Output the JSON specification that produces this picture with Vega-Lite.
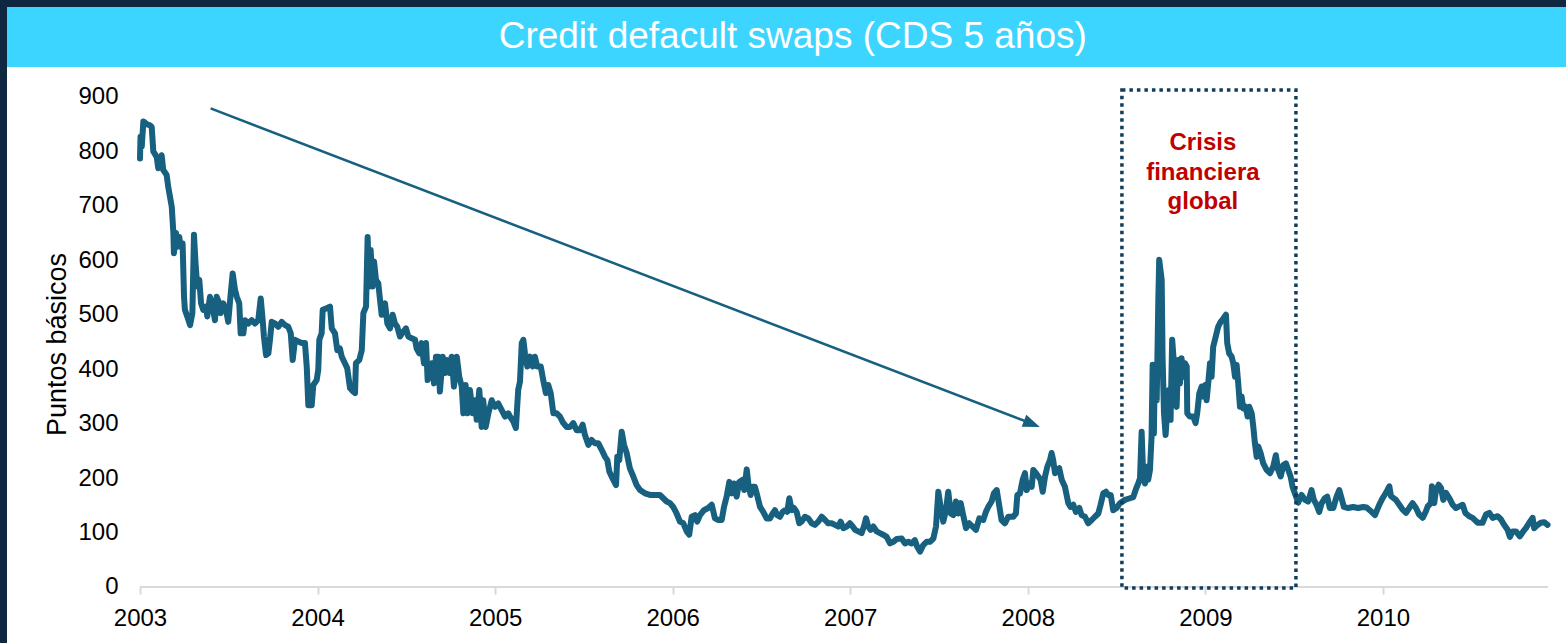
{
  "$schema": "https://vega.github.io/schema/vega-lite/v6.json",
  "background": "#0F2741",
  "padding": {"left": 7, "top": 7, "right": 0, "bottom": 0},
  "spacing": 0,
  "config": {
    "font": "Liberation Sans",
    "view": {"stroke": null},
    "concat": {"spacing": 0}
  },
  "vconcat": [
    {
      "width": 1559,
      "height": 60,
      "view": {"fill": "#3CD5FF", "stroke": null},
      "data": {"values": [{"titulo": "Credit defacult swaps (CDS 5 años)"}]},
      "mark": {"type": "text", "color": "#FFFFFF", "fontSize": 37, "font": "Liberation Sans", "align": "center", "baseline": "middle"},
      "encoding": {
        "x": {"datum": 0.504, "type": "quantitative", "scale": {"domain": [0, 1]}, "axis": null},
        "y": {"datum": 0.5, "type": "quantitative", "scale": {"domain": [0, 1]}, "axis": null},
        "text": {"field": "titulo"}
      }
    },
    {
      "width": 1559,
      "height": 576,
      "view": {"fill": "#FFFFFF", "stroke": null},
      "encoding": {
        "x": {
          "field": "anio", "type": "quantitative",
          "scale": {"domain": [2002.251, 2011.031], "nice": false, "zero": false},
          "axis": {
            "title": null, "values": [2003, 2004, 2005, 2006, 2007, 2008, 2009, 2010],
            "format": "d", "domain": false, "grid": false,
            "tickColor": "#D9D9D9", "tickWidth": 2, "tickSize": 7,
            "labelFontSize": 24, "labelColor": "#000000", "labelFont": "Liberation Sans",
            "labelPadding": 12, "labelFlush": false, "labelOverlap": false, "labelBound": false,
            "offset": -56
          }
        },
        "y": {
          "field": "v", "type": "quantitative",
          "scale": {"domain": [-102.9, 955.1], "nice": false, "zero": false},
          "axis": {
            "title": "Puntos básicos", "values": [0, 100, 200, 300, 400, 500, 600, 700, 800, 900],
            "domain": false, "grid": false, "ticks": false, "tickSize": 0,
            "labelFontSize": 24, "labelColor": "#000000", "labelFont": "Liberation Sans",
            "labelPadding": 0, "labelOverlap": false, "labelBound": false,
            "offset": -111,
            "titleFontSize": 27, "titleFontWeight": "normal", "titleColor": "#000000", "titleFont": "Liberation Sans",
            "titleX": -61, "titleY": 277, "titleBaseline": "middle", "titleAngle": 270
          }
        }
      },
      "layer": [
        {
          "data": {"values": [{"anio": 2003, "anio2": 2010.93, "v": 0}]},
          "mark": {"type": "rule", "color": "#D9D9D9", "strokeWidth": 2},
          "encoding": {"x2": {"field": "anio2"}}
        },
        {
          "data": {"values": [
            {"anio": 2003.000, "v": 787}, {"anio": 2003.003, "v": 827}, {"anio": 2003.010, "v": 809}, {"anio": 2003.019, "v": 855},
            {"anio": 2003.039, "v": 850}, {"anio": 2003.056, "v": 848}, {"anio": 2003.066, "v": 845}, {"anio": 2003.075, "v": 800},
            {"anio": 2003.094, "v": 790}, {"anio": 2003.103, "v": 769}, {"anio": 2003.122, "v": 793}, {"anio": 2003.131, "v": 766},
            {"anio": 2003.150, "v": 757}, {"anio": 2003.159, "v": 735}, {"anio": 2003.179, "v": 698}, {"anio": 2003.188, "v": 650},
            {"anio": 2003.191, "v": 613}, {"anio": 2003.203, "v": 650}, {"anio": 2003.210, "v": 625}, {"anio": 2003.221, "v": 643},
            {"anio": 2003.229, "v": 625}, {"anio": 2003.240, "v": 631}, {"anio": 2003.248, "v": 533}, {"anio": 2003.253, "v": 509},
            {"anio": 2003.266, "v": 497}, {"anio": 2003.282, "v": 481}, {"anio": 2003.295, "v": 503}, {"anio": 2003.304, "v": 647},
            {"anio": 2003.314, "v": 588}, {"anio": 2003.323, "v": 552}, {"anio": 2003.334, "v": 564}, {"anio": 2003.344, "v": 521},
            {"anio": 2003.356, "v": 509}, {"anio": 2003.372, "v": 515}, {"anio": 2003.379, "v": 497}, {"anio": 2003.394, "v": 533},
            {"anio": 2003.409, "v": 515}, {"anio": 2003.422, "v": 490}, {"anio": 2003.432, "v": 533}, {"anio": 2003.447, "v": 521},
            {"anio": 2003.454, "v": 503}, {"anio": 2003.469, "v": 521}, {"anio": 2003.488, "v": 503}, {"anio": 2003.497, "v": 487},
            {"anio": 2003.511, "v": 539}, {"anio": 2003.522, "v": 576}, {"anio": 2003.535, "v": 546}, {"anio": 2003.545, "v": 533},
            {"anio": 2003.559, "v": 521}, {"anio": 2003.567, "v": 466}, {"anio": 2003.582, "v": 466}, {"anio": 2003.591, "v": 490},
            {"anio": 2003.610, "v": 484}, {"anio": 2003.629, "v": 490}, {"anio": 2003.648, "v": 484}, {"anio": 2003.666, "v": 490},
            {"anio": 2003.680, "v": 530}, {"anio": 2003.691, "v": 490}, {"anio": 2003.698, "v": 460}, {"anio": 2003.710, "v": 426},
            {"anio": 2003.723, "v": 429}, {"anio": 2003.732, "v": 454}, {"anio": 2003.742, "v": 487}, {"anio": 2003.760, "v": 484},
            {"anio": 2003.779, "v": 478}, {"anio": 2003.798, "v": 487}, {"anio": 2003.817, "v": 481}, {"anio": 2003.835, "v": 478},
            {"anio": 2003.849, "v": 466}, {"anio": 2003.860, "v": 417}, {"anio": 2003.873, "v": 454}, {"anio": 2003.891, "v": 451},
            {"anio": 2003.911, "v": 448}, {"anio": 2003.929, "v": 448}, {"anio": 2003.939, "v": 405}, {"anio": 2003.948, "v": 334},
            {"anio": 2003.967, "v": 334}, {"anio": 2003.976, "v": 371}, {"anio": 2003.995, "v": 380}, {"anio": 2004.004, "v": 399},
            {"anio": 2004.010, "v": 454}, {"anio": 2004.023, "v": 466}, {"anio": 2004.029, "v": 509}, {"anio": 2004.051, "v": 512},
            {"anio": 2004.070, "v": 515}, {"anio": 2004.080, "v": 475}, {"anio": 2004.098, "v": 466}, {"anio": 2004.111, "v": 435},
            {"anio": 2004.126, "v": 438}, {"anio": 2004.136, "v": 423}, {"anio": 2004.154, "v": 411}, {"anio": 2004.167, "v": 402},
            {"anio": 2004.183, "v": 365}, {"anio": 2004.201, "v": 359}, {"anio": 2004.211, "v": 356}, {"anio": 2004.216, "v": 411},
            {"anio": 2004.235, "v": 417}, {"anio": 2004.249, "v": 435}, {"anio": 2004.258, "v": 503}, {"anio": 2004.273, "v": 515},
            {"anio": 2004.282, "v": 643}, {"anio": 2004.291, "v": 552}, {"anio": 2004.299, "v": 619}, {"anio": 2004.310, "v": 552},
            {"anio": 2004.318, "v": 598}, {"anio": 2004.329, "v": 564}, {"anio": 2004.342, "v": 558}, {"anio": 2004.352, "v": 527},
            {"anio": 2004.361, "v": 500}, {"anio": 2004.380, "v": 521}, {"anio": 2004.393, "v": 484}, {"anio": 2004.408, "v": 475},
            {"anio": 2004.423, "v": 500}, {"anio": 2004.436, "v": 484}, {"anio": 2004.449, "v": 478}, {"anio": 2004.464, "v": 460},
            {"anio": 2004.483, "v": 469}, {"anio": 2004.498, "v": 475}, {"anio": 2004.511, "v": 460}, {"anio": 2004.530, "v": 457},
            {"anio": 2004.549, "v": 454}, {"anio": 2004.558, "v": 438}, {"anio": 2004.573, "v": 429}, {"anio": 2004.586, "v": 448},
            {"anio": 2004.599, "v": 411}, {"anio": 2004.611, "v": 448}, {"anio": 2004.620, "v": 380}, {"anio": 2004.633, "v": 393},
            {"anio": 2004.644, "v": 411}, {"anio": 2004.656, "v": 374}, {"anio": 2004.667, "v": 423}, {"anio": 2004.680, "v": 423},
            {"anio": 2004.689, "v": 359}, {"anio": 2004.705, "v": 423}, {"anio": 2004.718, "v": 393}, {"anio": 2004.727, "v": 417},
            {"anio": 2004.742, "v": 393}, {"anio": 2004.755, "v": 423}, {"anio": 2004.768, "v": 368}, {"anio": 2004.784, "v": 423},
            {"anio": 2004.798, "v": 386}, {"anio": 2004.812, "v": 368}, {"anio": 2004.821, "v": 319}, {"anio": 2004.834, "v": 371},
            {"anio": 2004.845, "v": 319}, {"anio": 2004.858, "v": 362}, {"anio": 2004.874, "v": 319}, {"anio": 2004.887, "v": 343},
            {"anio": 2004.896, "v": 307}, {"anio": 2004.911, "v": 362}, {"anio": 2004.924, "v": 294}, {"anio": 2004.933, "v": 343},
            {"anio": 2004.947, "v": 294}, {"anio": 2004.962, "v": 319}, {"anio": 2004.981, "v": 343}, {"anio": 2004.999, "v": 331},
            {"anio": 2005.018, "v": 337}, {"anio": 2005.037, "v": 325}, {"anio": 2005.056, "v": 313}, {"anio": 2005.074, "v": 319},
            {"anio": 2005.084, "v": 313}, {"anio": 2005.102, "v": 304}, {"anio": 2005.117, "v": 292}, {"anio": 2005.130, "v": 362},
            {"anio": 2005.140, "v": 377}, {"anio": 2005.150, "v": 448}, {"anio": 2005.159, "v": 454}, {"anio": 2005.168, "v": 429},
            {"anio": 2005.181, "v": 405}, {"anio": 2005.196, "v": 423}, {"anio": 2005.212, "v": 405}, {"anio": 2005.224, "v": 423},
            {"anio": 2005.237, "v": 405}, {"anio": 2005.257, "v": 405}, {"anio": 2005.271, "v": 380}, {"anio": 2005.286, "v": 356},
            {"anio": 2005.299, "v": 371}, {"anio": 2005.313, "v": 356}, {"anio": 2005.328, "v": 319}, {"anio": 2005.347, "v": 319},
            {"anio": 2005.365, "v": 313}, {"anio": 2005.384, "v": 301}, {"anio": 2005.403, "v": 294}, {"anio": 2005.422, "v": 294},
            {"anio": 2005.440, "v": 301}, {"anio": 2005.459, "v": 288}, {"anio": 2005.478, "v": 288}, {"anio": 2005.493, "v": 298},
            {"anio": 2005.506, "v": 279}, {"anio": 2005.525, "v": 261}, {"anio": 2005.544, "v": 270}, {"anio": 2005.562, "v": 264},
            {"anio": 2005.581, "v": 264}, {"anio": 2005.600, "v": 252}, {"anio": 2005.619, "v": 239}, {"anio": 2005.632, "v": 233},
            {"anio": 2005.643, "v": 212}, {"anio": 2005.656, "v": 203}, {"anio": 2005.665, "v": 197}, {"anio": 2005.681, "v": 187},
            {"anio": 2005.688, "v": 239}, {"anio": 2005.699, "v": 233}, {"anio": 2005.713, "v": 285}, {"anio": 2005.726, "v": 261},
            {"anio": 2005.741, "v": 246}, {"anio": 2005.759, "v": 218}, {"anio": 2005.778, "v": 203}, {"anio": 2005.797, "v": 187},
            {"anio": 2005.816, "v": 178}, {"anio": 2005.844, "v": 172}, {"anio": 2005.872, "v": 169}, {"anio": 2005.900, "v": 169},
            {"anio": 2005.928, "v": 169}, {"anio": 2005.947, "v": 163}, {"anio": 2005.966, "v": 157}, {"anio": 2005.985, "v": 154},
            {"anio": 2006.003, "v": 147}, {"anio": 2006.022, "v": 135}, {"anio": 2006.041, "v": 120}, {"anio": 2006.060, "v": 117},
            {"anio": 2006.079, "v": 102}, {"anio": 2006.093, "v": 96}, {"anio": 2006.107, "v": 129}, {"anio": 2006.126, "v": 132},
            {"anio": 2006.138, "v": 120}, {"anio": 2006.154, "v": 132}, {"anio": 2006.176, "v": 141}, {"anio": 2006.200, "v": 145},
            {"anio": 2006.220, "v": 151}, {"anio": 2006.238, "v": 126}, {"anio": 2006.257, "v": 123}, {"anio": 2006.276, "v": 123},
            {"anio": 2006.289, "v": 147}, {"anio": 2006.304, "v": 166}, {"anio": 2006.319, "v": 193}, {"anio": 2006.332, "v": 172},
            {"anio": 2006.345, "v": 190}, {"anio": 2006.360, "v": 166}, {"anio": 2006.375, "v": 193}, {"anio": 2006.394, "v": 197},
            {"anio": 2006.403, "v": 178}, {"anio": 2006.417, "v": 216}, {"anio": 2006.426, "v": 190}, {"anio": 2006.439, "v": 169},
            {"anio": 2006.450, "v": 184}, {"anio": 2006.463, "v": 184}, {"anio": 2006.473, "v": 172}, {"anio": 2006.492, "v": 147},
            {"anio": 2006.510, "v": 138}, {"anio": 2006.529, "v": 126}, {"anio": 2006.548, "v": 126}, {"anio": 2006.563, "v": 135},
            {"anio": 2006.576, "v": 141}, {"anio": 2006.589, "v": 132}, {"anio": 2006.604, "v": 129}, {"anio": 2006.619, "v": 138},
            {"anio": 2006.632, "v": 141}, {"anio": 2006.645, "v": 138}, {"anio": 2006.657, "v": 163}, {"anio": 2006.670, "v": 141},
            {"anio": 2006.683, "v": 145}, {"anio": 2006.698, "v": 138}, {"anio": 2006.713, "v": 117}, {"anio": 2006.726, "v": 120},
            {"anio": 2006.745, "v": 129}, {"anio": 2006.764, "v": 126}, {"anio": 2006.783, "v": 117}, {"anio": 2006.801, "v": 114},
            {"anio": 2006.820, "v": 120}, {"anio": 2006.839, "v": 129}, {"anio": 2006.858, "v": 123}, {"anio": 2006.876, "v": 117},
            {"anio": 2006.895, "v": 117}, {"anio": 2006.914, "v": 114}, {"anio": 2006.933, "v": 111}, {"anio": 2006.946, "v": 120},
            {"anio": 2006.961, "v": 108}, {"anio": 2006.980, "v": 111}, {"anio": 2006.998, "v": 117}, {"anio": 2007.014, "v": 111},
            {"anio": 2007.027, "v": 105}, {"anio": 2007.045, "v": 102}, {"anio": 2007.064, "v": 99}, {"anio": 2007.077, "v": 111},
            {"anio": 2007.089, "v": 126}, {"anio": 2007.101, "v": 111}, {"anio": 2007.115, "v": 105}, {"anio": 2007.130, "v": 111},
            {"anio": 2007.149, "v": 102}, {"anio": 2007.167, "v": 99}, {"anio": 2007.186, "v": 96}, {"anio": 2007.205, "v": 92},
            {"anio": 2007.224, "v": 80}, {"anio": 2007.242, "v": 83}, {"anio": 2007.261, "v": 88}, {"anio": 2007.290, "v": 89},
            {"anio": 2007.308, "v": 80}, {"anio": 2007.327, "v": 83}, {"anio": 2007.346, "v": 80}, {"anio": 2007.364, "v": 86},
            {"anio": 2007.377, "v": 74}, {"anio": 2007.393, "v": 65}, {"anio": 2007.411, "v": 77}, {"anio": 2007.430, "v": 83},
            {"anio": 2007.449, "v": 83}, {"anio": 2007.468, "v": 89}, {"anio": 2007.483, "v": 111}, {"anio": 2007.496, "v": 175},
            {"anio": 2007.509, "v": 147}, {"anio": 2007.524, "v": 120}, {"anio": 2007.539, "v": 141}, {"anio": 2007.552, "v": 175},
            {"anio": 2007.566, "v": 135}, {"anio": 2007.580, "v": 132}, {"anio": 2007.595, "v": 157}, {"anio": 2007.608, "v": 135},
            {"anio": 2007.622, "v": 154}, {"anio": 2007.636, "v": 132}, {"anio": 2007.652, "v": 108}, {"anio": 2007.670, "v": 117},
            {"anio": 2007.689, "v": 111}, {"anio": 2007.708, "v": 105}, {"anio": 2007.727, "v": 126}, {"anio": 2007.749, "v": 123},
            {"anio": 2007.764, "v": 138}, {"anio": 2007.777, "v": 147}, {"anio": 2007.796, "v": 157}, {"anio": 2007.809, "v": 172},
            {"anio": 2007.825, "v": 178}, {"anio": 2007.852, "v": 123}, {"anio": 2007.871, "v": 117}, {"anio": 2007.890, "v": 129},
            {"anio": 2007.918, "v": 129}, {"anio": 2007.933, "v": 135}, {"anio": 2007.941, "v": 169}, {"anio": 2007.956, "v": 172},
            {"anio": 2007.971, "v": 197}, {"anio": 2007.984, "v": 209}, {"anio": 2007.994, "v": 178}, {"anio": 2008.008, "v": 190},
            {"anio": 2008.022, "v": 184}, {"anio": 2008.031, "v": 215}, {"anio": 2008.046, "v": 209}, {"anio": 2008.059, "v": 203},
            {"anio": 2008.072, "v": 197}, {"anio": 2008.084, "v": 175}, {"anio": 2008.097, "v": 203}, {"anio": 2008.110, "v": 221},
            {"anio": 2008.125, "v": 233}, {"anio": 2008.134, "v": 246}, {"anio": 2008.143, "v": 233}, {"anio": 2008.153, "v": 209},
            {"anio": 2008.166, "v": 215}, {"anio": 2008.177, "v": 218}, {"anio": 2008.191, "v": 197}, {"anio": 2008.209, "v": 184},
            {"anio": 2008.228, "v": 154}, {"anio": 2008.241, "v": 147}, {"anio": 2008.256, "v": 151}, {"anio": 2008.271, "v": 138},
            {"anio": 2008.290, "v": 145}, {"anio": 2008.303, "v": 132}, {"anio": 2008.322, "v": 129}, {"anio": 2008.340, "v": 117},
            {"anio": 2008.360, "v": 123}, {"anio": 2008.378, "v": 129}, {"anio": 2008.397, "v": 135}, {"anio": 2008.410, "v": 151},
            {"anio": 2008.425, "v": 172}, {"anio": 2008.440, "v": 175}, {"anio": 2008.453, "v": 169}, {"anio": 2008.467, "v": 169},
            {"anio": 2008.481, "v": 141}, {"anio": 2008.500, "v": 145}, {"anio": 2008.519, "v": 154}, {"anio": 2008.547, "v": 160},
            {"anio": 2008.575, "v": 163}, {"anio": 2008.594, "v": 165}, {"anio": 2008.609, "v": 180}, {"anio": 2008.622, "v": 190},
            {"anio": 2008.632, "v": 200}, {"anio": 2008.641, "v": 285}, {"anio": 2008.650, "v": 203}, {"anio": 2008.660, "v": 190},
            {"anio": 2008.669, "v": 221}, {"anio": 2008.678, "v": 197}, {"anio": 2008.688, "v": 215}, {"anio": 2008.697, "v": 276},
            {"anio": 2008.703, "v": 408}, {"anio": 2008.710, "v": 282}, {"anio": 2008.716, "v": 408}, {"anio": 2008.726, "v": 343},
            {"anio": 2008.735, "v": 527}, {"anio": 2008.740, "v": 601}, {"anio": 2008.754, "v": 564}, {"anio": 2008.759, "v": 423},
            {"anio": 2008.767, "v": 319}, {"anio": 2008.776, "v": 279}, {"anio": 2008.785, "v": 325}, {"anio": 2008.795, "v": 362},
            {"anio": 2008.804, "v": 307}, {"anio": 2008.813, "v": 454}, {"anio": 2008.823, "v": 411}, {"anio": 2008.830, "v": 337},
            {"anio": 2008.838, "v": 331}, {"anio": 2008.847, "v": 417}, {"anio": 2008.857, "v": 374}, {"anio": 2008.866, "v": 420},
            {"anio": 2008.875, "v": 386}, {"anio": 2008.885, "v": 411}, {"anio": 2008.895, "v": 405}, {"anio": 2008.898, "v": 319},
            {"anio": 2008.913, "v": 313}, {"anio": 2008.932, "v": 313}, {"anio": 2008.945, "v": 301}, {"anio": 2008.954, "v": 319},
            {"anio": 2008.966, "v": 356}, {"anio": 2008.979, "v": 368}, {"anio": 2008.988, "v": 350}, {"anio": 2008.998, "v": 371},
            {"anio": 2009.007, "v": 343}, {"anio": 2009.016, "v": 374}, {"anio": 2009.026, "v": 411}, {"anio": 2009.035, "v": 386},
            {"anio": 2009.044, "v": 441}, {"anio": 2009.054, "v": 454}, {"anio": 2009.063, "v": 466}, {"anio": 2009.072, "v": 478},
            {"anio": 2009.086, "v": 487}, {"anio": 2009.101, "v": 493}, {"anio": 2009.116, "v": 500}, {"anio": 2009.123, "v": 448},
            {"anio": 2009.134, "v": 429}, {"anio": 2009.148, "v": 423}, {"anio": 2009.157, "v": 411}, {"anio": 2009.167, "v": 386},
            {"anio": 2009.176, "v": 408}, {"anio": 2009.185, "v": 374}, {"anio": 2009.195, "v": 331}, {"anio": 2009.204, "v": 350},
            {"anio": 2009.213, "v": 328}, {"anio": 2009.227, "v": 331}, {"anio": 2009.238, "v": 313}, {"anio": 2009.247, "v": 331},
            {"anio": 2009.261, "v": 319}, {"anio": 2009.270, "v": 294}, {"anio": 2009.279, "v": 264}, {"anio": 2009.289, "v": 239},
            {"anio": 2009.298, "v": 258}, {"anio": 2009.311, "v": 246}, {"anio": 2009.326, "v": 227}, {"anio": 2009.345, "v": 215},
            {"anio": 2009.364, "v": 209}, {"anio": 2009.382, "v": 221}, {"anio": 2009.397, "v": 242}, {"anio": 2009.410, "v": 215},
            {"anio": 2009.424, "v": 203}, {"anio": 2009.439, "v": 224}, {"anio": 2009.454, "v": 227}, {"anio": 2009.467, "v": 215},
            {"anio": 2009.480, "v": 203}, {"anio": 2009.491, "v": 184}, {"anio": 2009.504, "v": 172}, {"anio": 2009.523, "v": 155},
            {"anio": 2009.542, "v": 169}, {"anio": 2009.561, "v": 160}, {"anio": 2009.579, "v": 157}, {"anio": 2009.598, "v": 178},
            {"anio": 2009.611, "v": 160}, {"anio": 2009.626, "v": 151}, {"anio": 2009.641, "v": 138}, {"anio": 2009.655, "v": 154},
            {"anio": 2009.673, "v": 163}, {"anio": 2009.686, "v": 166}, {"anio": 2009.701, "v": 145}, {"anio": 2009.720, "v": 145},
            {"anio": 2009.739, "v": 166}, {"anio": 2009.754, "v": 178}, {"anio": 2009.767, "v": 163}, {"anio": 2009.780, "v": 147},
            {"anio": 2009.804, "v": 145}, {"anio": 2009.832, "v": 147}, {"anio": 2009.860, "v": 145}, {"anio": 2009.889, "v": 147},
            {"anio": 2009.908, "v": 146}, {"anio": 2009.936, "v": 138}, {"anio": 2009.955, "v": 132}, {"anio": 2009.979, "v": 151},
            {"anio": 2009.998, "v": 163}, {"anio": 2010.017, "v": 173}, {"anio": 2010.036, "v": 185}, {"anio": 2010.045, "v": 167},
            {"anio": 2010.073, "v": 160}, {"anio": 2010.092, "v": 151}, {"anio": 2010.111, "v": 142}, {"anio": 2010.130, "v": 136},
            {"anio": 2010.148, "v": 145}, {"anio": 2010.167, "v": 154}, {"anio": 2010.186, "v": 145}, {"anio": 2010.204, "v": 133},
            {"anio": 2010.224, "v": 127}, {"anio": 2010.242, "v": 139}, {"anio": 2010.252, "v": 148}, {"anio": 2010.270, "v": 154},
            {"anio": 2010.276, "v": 185}, {"anio": 2010.289, "v": 154}, {"anio": 2010.298, "v": 176}, {"anio": 2010.314, "v": 188},
            {"anio": 2010.327, "v": 182}, {"anio": 2010.340, "v": 160}, {"anio": 2010.355, "v": 173}, {"anio": 2010.374, "v": 163},
            {"anio": 2010.393, "v": 151}, {"anio": 2010.411, "v": 145}, {"anio": 2010.430, "v": 148}, {"anio": 2010.449, "v": 151},
            {"anio": 2010.464, "v": 136}, {"anio": 2010.486, "v": 130}, {"anio": 2010.505, "v": 127}, {"anio": 2010.533, "v": 118},
            {"anio": 2010.561, "v": 118}, {"anio": 2010.580, "v": 133}, {"anio": 2010.599, "v": 136}, {"anio": 2010.618, "v": 127},
            {"anio": 2010.646, "v": 130}, {"anio": 2010.665, "v": 124}, {"anio": 2010.683, "v": 114}, {"anio": 2010.702, "v": 105},
            {"anio": 2010.715, "v": 92}, {"anio": 2010.730, "v": 102}, {"anio": 2010.749, "v": 102}, {"anio": 2010.771, "v": 93},
            {"anio": 2010.790, "v": 102}, {"anio": 2010.805, "v": 108}, {"anio": 2010.824, "v": 118}, {"anio": 2010.843, "v": 127},
            {"anio": 2010.852, "v": 108}, {"anio": 2010.871, "v": 114}, {"anio": 2010.889, "v": 118}, {"anio": 2010.908, "v": 119},
            {"anio": 2010.927, "v": 114}
          ]},
          "mark": {"type": "line", "color": "#17607F", "strokeWidth": 6, "strokeJoin": "round", "strokeCap": "round"}
        },
        {
          "data": {"values": [{"anio": 2008.53, "anio2": 2009.51, "v": -2, "v2": 913}]},
          "mark": {"type": "rect", "filled": false, "stroke": "#123D5C", "strokeWidth": 3.5, "strokeDash": [3.5, 4]},
          "encoding": {"x2": {"field": "anio2"}, "y2": {"field": "v2"}}
        },
        {
          "data": {"values": [{"anio": 2003.398, "v": 879, "anio2": 2008.023, "v2": 300}]},
          "mark": {"type": "rule", "color": "#17607F", "strokeWidth": 2.5},
          "encoding": {"x2": {"field": "anio2"}, "y2": {"field": "v2"}}
        },
        {
          "data": {"values": [{"anio": 2008.068, "v": 294}]},
          "mark": {"type": "point", "shape": "M0,0L-2,-0.75L-2,0.75Z", "filled": true, "opacity": 1, "size": 289, "angle": 21, "color": "#17607F", "strokeWidth": 0}
        },
        {
          "data": {"values": [{"anio": 2008.986, "v": 815, "texto": "Crisis\nfinanciera\nglobal"}]},
          "mark": {"type": "text", "lineBreak": "\n", "lineHeight": 29.5, "fontSize": 24, "fontWeight": "bold", "font": "Liberation Sans", "color": "#C00000", "align": "center", "baseline": "middle"},
          "encoding": {"text": {"field": "texto"}}
        }
      ]
    }
  ]
}
